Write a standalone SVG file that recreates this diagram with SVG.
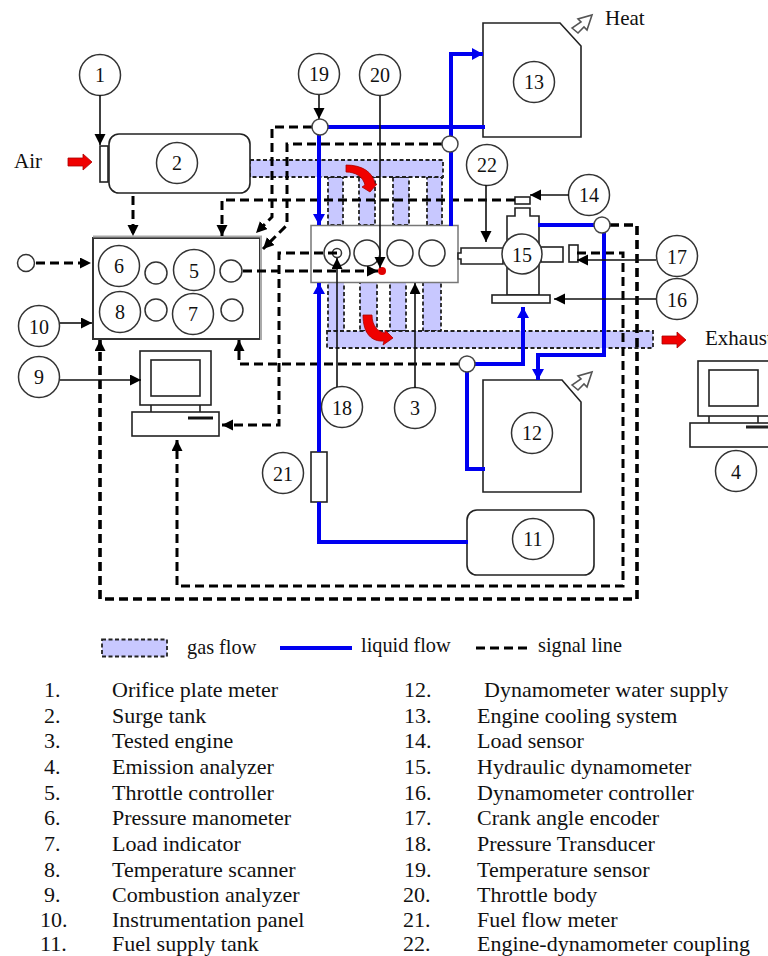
<svg xmlns="http://www.w3.org/2000/svg" width="768" height="956" viewBox="0 0 768 956">
<style>
text{font-family:"Liberation Serif","Times New Roman",serif;fill:#111}
.n{font-size:20px;text-anchor:middle}
.l{font-size:22px}
.t{font-size:21px}
.lg{font-size:20.300px}
.c{fill:#fff;stroke:#333;stroke-width:1.5}
.j{fill:#fff;stroke:#444;stroke-width:1.5}
.b{fill:#fff;stroke:#222;stroke-width:1.6}
.g{fill:#c8c8ff;stroke:#222;stroke-width:1.8;stroke-dasharray:4 2.500}
.s{fill:none;stroke:#000;stroke-width:3;stroke-dasharray:9 5}
.s2{fill:none;stroke:#000;stroke-width:3.600;stroke-dasharray:9 5}
.w{fill:none;stroke:#0000f0;stroke-width:4}
.a{fill:none;stroke:#111;stroke-width:1.600}
.r{fill:#f00000;stroke:#a00;stroke-width:.8}
.h{fill:#fff;stroke:#555;stroke-width:1.600}
</style>
<defs>
<marker id="k" markerUnits="userSpaceOnUse" markerWidth="12" markerHeight="12" refX="11" refY="5.500" orient="auto"><path d="M0 0L11 5.500L0 11Z" fill="#000"/></marker>
<marker id="u" markerUnits="userSpaceOnUse" markerWidth="13" markerHeight="14" refX="11" refY="6" orient="auto"><path d="M0 0L11 6L0 12Z" fill="#0000f0"/></marker>
</defs>
<g id="gas-flow">
<path class="g" d="M328 177H343V225H328ZM359 177H375V225H359ZM393 177H409V225H393ZM427 177H442V225H427Z"/>
<path class="g" d="M250 160H443V177H250Z"/>
<path class="g" d="M328 282H344V331H328ZM360 282H377V331H360ZM390 282H406V331H390ZM423 282H441V331H423Z"/>
<path class="g" d="M327 331H653V348H327Z"/>
</g>
<g id="air-arrow"><path class="r" d="M68 158H83V154L92 162L83 170V166H68Z"/></g>
<g id="exhaust-arrow"><path class="r" d="M662 336H677V332L686 340L677 348V344H662Z"/></g>
<g id="intake-red"><path class="r" d="M346 165C362 165 373 172 375 184L377 184L370 192L362 187L365 185C363 177 356 172 346 172Z"/></g>
<g id="exhaust-red"><path class="r" d="M363 315H372C372 326 378 332 385 333L385 330L393 338L383 345L384 341C372 342 363 334 363 315Z"/></g>
<g id="n1"><rect class="b" x="100" y="146" width="8" height="36"/><circle class="c" cx="100" cy="75" r="20.500"/><text class="n" x="100" y="82">1</text></g>
<g id="n2"><rect class="b" x="109" y="134" width="141" height="59" rx="10"/><circle class="c" cx="177" cy="163" r="20.500"/><text class="n" x="177" y="170">2</text></g>
<g id="n3"><rect x="311" y="225.500" width="147" height="57" fill="#fff" stroke="#777" stroke-width="1.500"/>
<circle class="c" cx="337" cy="253" r="13"/><circle class="c" cx="337" cy="253" r="4.500"/><circle class="c" cx="367" cy="253" r="13"/><circle class="c" cx="400" cy="253" r="13"/><circle class="c" cx="432" cy="253" r="13"/>
<circle cx="382" cy="271" r="4" fill="#e00000"/>
<circle class="c" cx="415" cy="408" r="20.500"/><text class="n" x="415" y="415">3</text></g>
<g id="n4"><rect class="b" x="698" y="361" width="72" height="55"/><rect class="b" x="709" y="370" width="49" height="36"/><path class="b" d="M709 416V423M758 416V423"/><rect class="b" x="690" y="423" width="80" height="24"/><path d="M746 427H770" stroke="#222" stroke-width="3"/><circle class="c" cx="736" cy="471" r="20.500"/><text class="n" x="736" y="479">4</text></g>
<g id="n10"><rect x="93" y="238" width="167" height="101" fill="#fff" stroke="#333" stroke-width="2"/><path d="M93 236.500H261V340" fill="none" stroke="#aaa" stroke-width="2"/><circle class="c" cx="39" cy="326" r="20.500"/><text class="n" x="39" y="334">10</text></g>
<g id="n6"><circle class="c" cx="119" cy="266" r="20.500"/><text class="n" x="119" y="273">6</text></g>
<g id="n5"><circle class="c" cx="194" cy="270" r="20.500"/><text class="n" x="194" y="278">5</text></g>
<g id="n8"><circle class="c" cx="120" cy="312" r="20.500"/><text class="n" x="120" y="319">8</text></g>
<g id="n7"><circle class="c" cx="193" cy="314" r="20.500"/><text class="n" x="193" y="321">7</text></g>
<g id="panel-dials"><circle class="c" cx="156" cy="273" r="11"/><circle class="c" cx="231" cy="271" r="11"/><circle class="c" cx="156" cy="310" r="11"/><circle class="c" cx="232" cy="310" r="11"/><circle class="c" cx="26" cy="263" r="8.500"/></g>
<g id="n9"><rect class="b" x="140" y="351" width="71" height="54"/><rect class="b" x="151" y="360" width="49" height="36"/><path class="b" d="M151 405V412M200 405V412"/><rect class="b" x="132" y="412" width="87" height="24"/><path d="M188 418H213" stroke="#111" stroke-width="3"/><circle class="c" cx="39" cy="377" r="20.500"/><text class="n" x="39" y="384">9</text></g>
<g id="n11"><rect class="b" x="467" y="510" width="127" height="65" rx="10"/><circle class="c" cx="533" cy="539" r="20.500"/><text class="n" x="533" y="546">11</text></g>
<g id="n12"><path class="b" d="M483 380H562L581 402V492H483Z"/><path class="h" d="M572 385L578 390L584 384L587 387L592 372L578 376L581 379Z"/><circle class="c" cx="532" cy="433" r="20.500"/><text class="n" x="532" y="440">12</text></g>
<g id="n13"><path class="b" d="M483 23H560L581 46V137H483Z"/><path class="h" d="M572 28L578 33L584 27L587 30L592 15L578 19L581 22Z"/><circle class="c" cx="534" cy="82" r="20.500"/><text class="n" x="534" y="89">13</text></g>
<g id="n14"><rect class="b" x="515" y="197" width="15" height="7"/><circle class="c" cx="589" cy="195" r="20.500"/><text class="n" x="589" y="202">14</text></g>
<g id="n15"><path class="b" d="M507 295V216H515V208H530V216H539V295Z"/><rect class="b" x="541" y="247" width="22" height="15"/><path class="b" d="M503 248H461V253H458V259H461V264H503Z"/><circle class="c" cx="522" cy="254" r="20"/><text class="n" x="522" y="262">15</text></g>
<g id="n16"><rect class="b" x="492" y="295" width="58" height="8"/><circle class="c" cx="677" cy="299" r="20.500"/><text class="n" x="677" y="307">16</text></g>
<g id="n17"><rect class="b" x="569" y="245" width="9" height="17"/><circle class="c" cx="677" cy="256" r="20.500"/><text class="n" x="677" y="264">17</text></g>
<g id="n18"><circle class="c" cx="342" cy="407" r="20.500"/><text class="n" x="342" y="415">18</text></g>
<g id="n19"><circle class="c" cx="319" cy="74" r="20.500"/><text class="n" x="319" y="81">19</text></g>
<g id="n20"><circle class="c" cx="380" cy="75" r="20.500"/><text class="n" x="380" y="82">20</text></g>
<g id="n21"><rect class="b" x="311" y="452" width="16" height="50"/><circle class="c" cx="283" cy="473" r="20.500"/><text class="n" x="283" y="481">21</text></g>
<g id="n22"><circle class="c" cx="487" cy="165" r="20.500"/><text class="n" x="487" y="172">22</text></g>
<g id="connectors">
<path class="s" d="M312 127H272V217L256 233" marker-end="url(#k)"/>
<path class="s" d="M442 144H287V225L263 249" marker-end="url(#k)"/>
<path class="s" d="M515 200H222V236" marker-end="url(#k)"/>
<path class="s" d="M133 196V236" marker-end="url(#k)"/>
<path class="s" d="M36 263H91" marker-end="url(#k)"/>
<path class="s" d="M243 271H378" marker-end="url(#k)"/>
<path class="s" d="M337 253H279V425H222" marker-end="url(#k)"/>
<path class="s" d="M459 364H239V340" marker-end="url(#k)"/>
<path class="s" d="M577 253H623V586H177V440" marker-end="url(#k)"/>
<path class="s2" d="M610 225H637V599H100V340" marker-end="url(#k)"/>
<path class="w" d="M328 127H485"/>
<path class="w" d="M319 135V225" marker-end="url(#u)"/>
<path class="w" d="M451 136V54H483" marker-end="url(#u)"/>
<path class="w" d="M451 152V226"/>
<path class="w" d="M468 542H319V502"/>
<path class="w" d="M319 452V283" marker-end="url(#u)"/>
<path class="w" d="M594 225H538"/>
<path class="w" d="M604 233V355H538V380" marker-end="url(#u)"/>
<path class="w" d="M475 364H523V307" marker-end="url(#u)"/>
<path class="w" d="M467 372V469H485"/>
<path class="a" d="M100 95V145" marker-end="url(#k)"/>
<path class="a" d="M319 95V119" marker-end="url(#k)"/>
<path class="a" d="M380 96V268" marker-end="url(#k)"/>
<path class="a" d="M60 323H92" marker-end="url(#k)"/>
<path class="a" d="M60 380H141" marker-end="url(#k)"/>
<path class="a" d="M337 387V258" marker-end="url(#k)"/>
<path class="a" d="M415 388V283" marker-end="url(#k)"/>
<path class="a" d="M486 185V242" marker-end="url(#k)"/>
<path class="a" d="M569 195H530" marker-end="url(#k)"/>
<path class="a" d="M656 260H577" marker-end="url(#k)"/>
<path class="a" d="M656 299H554" marker-end="url(#k)"/>
</g>
<g id="sensors"><circle class="j" cx="320" cy="127" r="8"/><circle class="j" cx="450" cy="144" r="8"/><circle class="j" cx="602" cy="225" r="8"/><circle class="j" cx="467" cy="364" r="8"/></g>
<g id="labels"><text class="t" x="14" y="168">Air</text><text class="t" x="605" y="25">Heat</text><text class="t" x="705" y="345">Exhaust</text></g>
<g id="legend">
<rect class="g" x="102" y="639.500" width="65" height="17"/><text class="lg" x="187" y="654">gas flow</text>
<path class="w" d="M280 648H352"/><text class="lg" x="361" y="652">liquid flow</text>
<path class="s" d="M476 648H528"/><text class="lg" x="538" y="652">signal line</text>
</g>
<g id="list">
<text class="l"><tspan x="44" y="697">1.</tspan><tspan x="44" y="723">2.</tspan><tspan x="44" y="748">3.</tspan><tspan x="44" y="774">4.</tspan><tspan x="44" y="800">5.</tspan><tspan x="44" y="825">6.</tspan><tspan x="44" y="851">7.</tspan><tspan x="44" y="877">8.</tspan><tspan x="44" y="902">9.</tspan><tspan x="40" y="927">10.</tspan><tspan x="40" y="951">11.</tspan></text>
<text class="l"><tspan x="112" y="697">Orifice plate meter</tspan><tspan x="112" y="723">Surge tank</tspan><tspan x="112" y="748">Tested engine</tspan><tspan x="112" y="774">Emission analyzer</tspan><tspan x="112" y="800">Throttle controller</tspan><tspan x="112" y="825">Pressure manometer</tspan><tspan x="112" y="851">Load indicator</tspan><tspan x="112" y="877">Temperature scanner</tspan><tspan x="112" y="902">Combustion analyzer</tspan><tspan x="112" y="927">Instrumentation panel</tspan><tspan x="112" y="951">Fuel supply tank</tspan></text>
<text class="l"><tspan x="404" y="697">12.</tspan><tspan x="404" y="723">13.</tspan><tspan x="404" y="748">14.</tspan><tspan x="404" y="774">15.</tspan><tspan x="404" y="800">16.</tspan><tspan x="404" y="825">17.</tspan><tspan x="404" y="851">18.</tspan><tspan x="404" y="877">19.</tspan><tspan x="403" y="902">20.</tspan><tspan x="403" y="927">21.</tspan><tspan x="403" y="951">22.</tspan></text>
<text class="l"><tspan x="484" y="697">Dynamometer water supply</tspan><tspan x="477" y="723">Engine cooling system</tspan><tspan x="477" y="748">Load sensor</tspan><tspan x="477" y="774">Hydraulic dynamometer</tspan><tspan x="477" y="800">Dynamometer controller</tspan><tspan x="477" y="825">Crank angle encoder</tspan><tspan x="477" y="851">Pressure Transducer</tspan><tspan x="477" y="877">Temperature sensor</tspan><tspan x="477" y="902">Throttle body</tspan><tspan x="477" y="927">Fuel flow meter</tspan><tspan x="477" y="951">Engine-dynamometer coupling</tspan></text>
</g>
</svg>
